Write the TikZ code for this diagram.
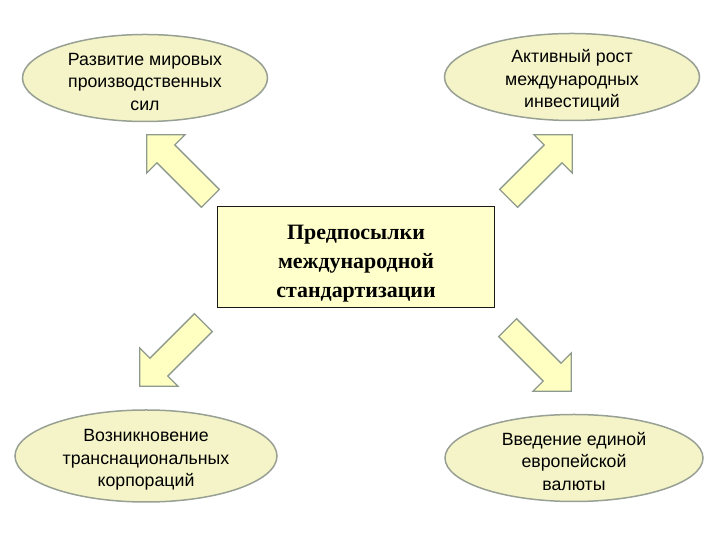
\documentclass[tikz,border=0pt]{standalone}
\usepackage{fontspec}
\setmainfont{Liberation Serif}
\newfontfamily\ellfont{Liberation Sans}
\usetikzlibrary{shapes.geometric, shapes.arrows, positioning}
\definecolor{ellfill}{HTML}{F4F4C8}
\definecolor{elldraw}{HTML}{98A094}
\definecolor{arrfill}{HTML}{FFFFC2}
\definecolor{arrdraw}{HTML}{8E9A8E}
\definecolor{boxfill}{HTML}{FFFFCC}
\newcommand{\ellstrut}{\rule{0pt}{20bp}}

\begin{document}
\begin{tikzpicture}[x=1bp,y=1bp]
\useasboundingbox (0,0) rectangle (720,540);
%, centre box
 \node (core) [draw=black!90, line width=1.6bp, fill=boxfill, minimum width=277bp, minimum height=101bp, align=center, font=\bfseries\fontsize{22}{29}\selectfont] at (356,283) {\rule{0pt}{27bp}Предпосылки\\международной\\стандартизации};

 \begin{scope}[ every node/.style={ellipse,draw=elldraw,line width=1.5bp,fill=ellfill,inner xsep=0pt,inner ysep=-12bp,align=center,font=\ellfont\fontsize{17.8}{22.5}\selectfont}]
    \node (e1) [minimum width=245bp, minimum height=87bp] at (145,462) {\ellstrut Развитие мировых\\производственных\\сил};
    \node (e2) [minimum width=255bp, minimum height=87bp] at (572,463) {\ellstrut Активный рост\\международных\\инвестиций};
    \node (e3) [minimum width=262bp, minimum height=92bp] at (146,84) {\ellstrut Возникновение\\транснациональных\\корпораций};
    \node (e4) [minimum width=258bp, minimum height=87bp] at (574,82) {\ellstrut Введение единой\\европейской\\валюты};
 \end{scope}

 \begin{scope}[ every node/.style={single arrow,draw=arrdraw,line width=1.3bp,fill=arrfill,inner xsep=0pt,inner ysep=12bp,minimum width=53bp,single arrow head extend=14.5bp,minimum height=90bp}]
    \node (a1) [rotate=135] at (183,369) {};
    \node (a2) [rotate=45] at (536,369) {};
    \node (a3) [rotate=225] at (176,190) {};
    \node (a4) [rotate=-45] at (535,185) {};
 \end{scope}
\end{tikzpicture}
\end{document}
